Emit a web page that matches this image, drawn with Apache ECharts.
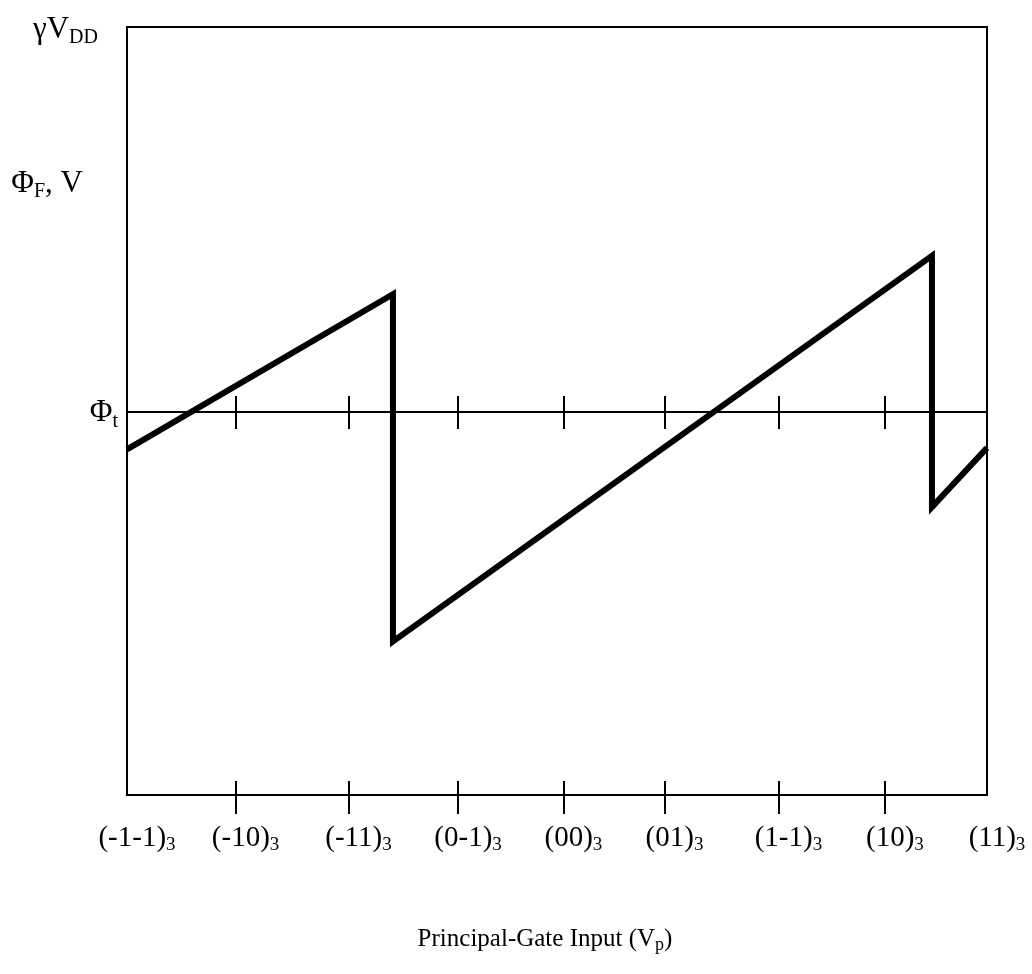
<!DOCTYPE html>
<html>
<head>
<meta charset="utf-8">
<script src="https://cdn.jsdelivr.net/npm/echarts@6/dist/echarts.min.js"></script>
<style>
  html, body { margin: 0; padding: 0; background: #fff; }
  #chart { width: 1032px; height: 974px; }
</style>
</head>
<body>
<div id="chart"></div>
<script>
// ── Data ───────────────────────────────────────────────
// tick positions along the input axis (in ternary-step units)
const tickPos    = [0, 1.01, 2.06, 3.08, 4.06, 5.0, 6.06, 7.05, 8];
const tickLabels = ['(-1-1)', '(-10)', '(-11)', '(0-1)', '(00)', '(01)', '(1-1)', '(10)', '(11)'];
const tickBase   = '3';

// floating-gate potential vs. principal-gate input (0 = bottom, 100 = γVDD)
const phiX = [0, 2.474, 2.474, 7.488, 7.488, 8];
const phiY = [45, 65.2, 20, 70.2, 37.5, 45.2];

// left-hand level labels
const levelValues = [99.6, 79.6, 49.7];
const levelLabels = ['{y|γV}{ys|DD}{g20|}', '{y|Φ}{ys|F}{y|, V}{g35|}', '{y|Φ}{ys|t}'];

const PHI_T_OFFSET = -383;   // Φt reference line, px above the bottom axis

// ── Chart ──────────────────────────────────────────────
const chart = echarts.init(document.getElementById('chart'));
const SERIF = "'Liberation Serif', 'DejaVu Serif', serif";

function txt(size, lh, extra) {
  return Object.assign({ fontFamily: SERIF, fontSize: size, color: '#000', lineHeight: lh }, extra);
}

const rich = {
  m:   txt(29, 34),
  s:   txt(19, 21, { verticalAlign: 'bottom' }),
  y:   txt(31, 36),
  ys:  txt(20, 22, { verticalAlign: 'bottom' }),
  t:   txt(25, 30),
  ts:  txt(18, 19, { verticalAlign: 'bottom' }),
  g20: { width: 20 },
  g35: { width: 35 },
};

const innerTicks = tickPos.slice(1, -1);
const black = { color: '#000', width: 2 };

function idxOf(arr, v) {
  return arr.findIndex(a => Math.abs(a - v) < 1e-6);
}

function tickAxis(extra) {
  return Object.assign({
    type: 'value', min: 0, max: 8, position: 'bottom',
    axisLine:  { show: false, onZero: false },
    axisTick:  { customValues: innerTicks, lineStyle: black },
    axisLabel: { show: false },
    splitLine: { show: false },
  }, extra);
}

chart.setOption({
  animation: false,
  backgroundColor: '#fff',
  grid: {
    left: 127, right: 45, top: 27, bottom: 179,
    containLabel: false, outerBoundsMode: 'none',
    show: true, borderColor: '#000', borderWidth: 2,
  },
  xAxis: [
    tickAxis({
      axisLine: { show: true, onZero: false, lineStyle: black },
      axisTick: { customValues: innerTicks, length: 19, lineStyle: black },
      axisLabel: {
        show: true,
        customValues: tickPos,
        margin: 26,
        padding: [0, 0, 0, 20],
        rich,
        formatter: v => '{m|' + tickLabels[idxOf(tickPos, v)] + '}{s|' + tickBase + '}',
      },
      name: '{t|Principal-Gate Input (V}{ts|p}{t|)}',
      nameLocation: 'middle',
      nameGap: 129,
      nameTextStyle: { rich, padding: [0, 24, 0, 0] },
    }),
    tickAxis({ axisTick: { customValues: innerTicks, inside: true, length: 14, lineStyle: black } }),
    tickAxis({
      offset: PHI_T_OFFSET,
      axisLine: { show: true, onZero: false, lineStyle: black },
      axisTick: { customValues: innerTicks, length: 17, lineStyle: black },
    }),
    tickAxis({
      offset: PHI_T_OFFSET,
      axisTick: { customValues: innerTicks, inside: true, length: 16, lineStyle: black },
    }),
  ],
  yAxis: {
    type: 'value', min: 0, max: 100,
    axisLine:  { show: true, onZero: false, lineStyle: black },
    axisTick:  { show: false },
    splitLine: { show: false },
    axisLabel: {
      customValues: levelValues,
      margin: 9,
      rich,
      formatter: v => levelLabels[idxOf(levelValues, v)] || '',
    },
  },
  series: [{
    type: 'line',
    xAxisIndex: 0,
    data: phiX.map((x, i) => [x, phiY[i]]),
    symbol: 'none',
    clip: false,
    lineStyle: { color: '#000', width: 6, join: 'miter' },
  }],
});
</script>
</body>
</html>
